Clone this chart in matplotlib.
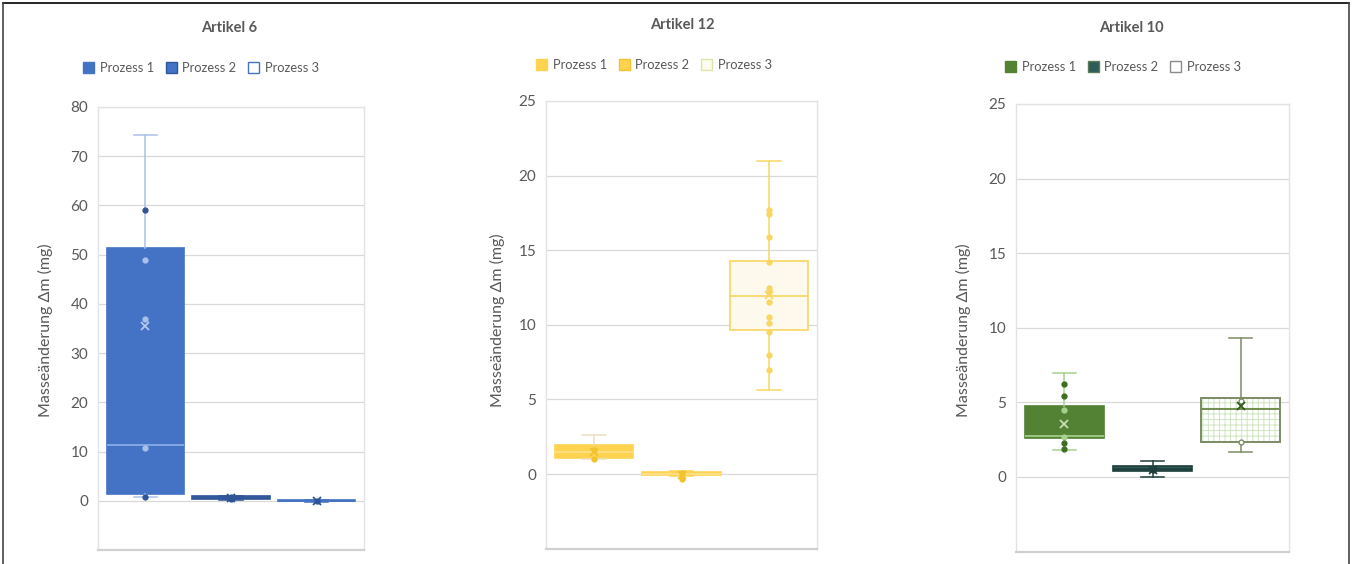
import numpy as np
import matplotlib.pyplot as plt
from matplotlib.patches import Patch, PathPatch
from matplotlib.lines import Line2D

plt.rcParams['font.family'] = ['Lato', 'DejaVu Sans']
plt.rcParams['hatch.linewidth'] = 0.7

prozesse = ["Prozess 1", "Prozess 2", "Prozess 3"]
ylabel = "Masseänderung Δm (mg)"

# Artikel 6
a6_q1 = [1.4, 0.3, -0.1]
a6_med = [11.4, 0.6, 0.0]
a6_q3 = [51.3, 0.9, 0.1]
a6_lo = [0.8, 0.2, -0.15]
a6_hi = [74.4, 1.0, 0.15]
a6_mean = [35.6, 0.5, 0.0]
a6_pts = [[59.0, 49.0, 37.0, 10.7, 0.8], [0.4, 0.6, 0.8], [0.0]]

# Artikel 12
a12_q1 = [1.1, -0.1, 9.65]
a12_med = [1.5, 0.0, 11.9]
a12_q3 = [1.95, 0.15, 14.3]
a12_lo = [1.0, -0.15, 5.6]
a12_hi = [2.6, 0.2, 21.0]
a12_mean = [1.5, -0.05, 12.0]
a12_pts = [[1.0, 1.6], [-0.35, 0.1],
           [17.7, 17.4, 15.9, 14.2, 12.5, 12.2, 11.5, 10.5, 10.1, 9.5, 8.0, 7.0]]

# Artikel 10
a10_q1 = [2.6, 0.4, 2.35]
a10_med = [2.75, 0.55, 4.56]
a10_q3 = [4.76, 0.74, 5.3]
a10_lo = [1.8, 0.0, 1.68]
a10_hi = [7.0, 1.07, 9.3]
a10_mean = [3.55, 0.5, 4.75]
a10_pts = [[6.2, 5.4, 4.5, 2.7, 2.3, 1.9], [0.5], [5.1, 2.35]]


def stats(q1, med, q3, lo, hi, mean):
    out = []
    for i in range(len(q1)):
        out.append(dict(q1=q1[i], med=med[i], q3=q3[i], whislo=lo[i],
                        whishi=hi[i], mean=mean[i], fliers=[]))
    return out


panels = [
    dict(title="Artikel 6", rect=(98, 107, 364, 550), ylim=(-10, 80), step=10,
         st=stats(a6_q1, a6_med, a6_q3, a6_lo, a6_hi, a6_mean), pts=a6_pts,
         fill=["#4472c4", "#4472c4", "white"],
         edge=["#4472c4", "#2f5597", "#4472c4"],
         whisk=["#a9c0ea", "#2f5597", "#4472c4"],
         med=["#8fb0ea", "#2f5597", "#4472c4"],
         mean=["#b4c8ee", "#2f5597", "#2f5597"],
         p_in=["#a9c0ea", "#2f5597", "#2f5597"],
         p_out=["#2f5597", "#2f5597", "#2f5597"],
         leg=[("#4472c4", "#4472c4"), ("#4472c4", "#2f5597"), ("white", "#4472c4")],
         tpos=(229, 28), lpos=(201, 68), ypos=(45, 330)),
    dict(title="Artikel 12", rect=(546, 101, 817, 548.6), ylim=(-5, 25), step=5,
         st=stats(a12_q1, a12_med, a12_q3, a12_lo, a12_hi, a12_mean), pts=a12_pts,
         fill=["#ffd34f", "#ffd34f", "#fdf9ec"],
         edge=["#ffd34f", "#ffd34f", "#f8d660"],
         whisk=["#e9dfbf", "#ffd34f", "#f8d660"],
         med=["#ffe38a", "#ffe38a", "#f8d660"],
         mean=["#f2c230", "#f2c230", "#f8d660"],
         p_in=["#f2c230", "#f2c230", "#f8d660"],
         p_out=["#f2c230", "#f2c230", "#f8d660"],
         leg=[("#ffd34f", "#ffd34f"), ("#ffd34f", "#f2c230"), ("#fdfbee", "#d9e6a8")],
         tpos=(682, 25), lpos=(654, 65), ypos=(497, 320)),
    dict(title="Artikel 10", rect=(1016, 104, 1289, 551.6), ylim=(-5, 25), step=5,
         st=stats(a10_q1, a10_med, a10_q3, a10_lo, a10_hi, a10_mean), pts=a10_pts,
         fill=["#548235", "#2e5b57", "white"],
         edge=["#548235", "#1e3d3a", "#7c8c64"],
         whisk=["#a9d18e", "#1e3d3a", "#7c8c64"],
         med=["#a9d18e", "#1e3d3a", "#5f7d3a"],
         mean=["#c5e0b4", "#1e3d3a", "#2f5a1e"],
         p_in=["#a9d18e", "#1e3d3a", "#7c8c64"],
         p_out=["#3f6e22", "#1e3d3a", "#7c8c64"],
         leg=[("#548235", "#548235"), ("#2e5b57", "#5a7a5a"), ("white", "#8a8a8a")],
         tpos=(1131, 28), lpos=(1123, 67), ypos=(963, 330)),
]

W, H = 1352, 564
fig = plt.figure(figsize=(W / 100, H / 100), dpi=100)
grey = "#595959"

for p in panels:
    l, t, r, b = p["rect"]
    ax = fig.add_axes([l / W, 1 - b / H, (r - l) / W, (b - t) / H])
    pos = np.arange(1, 4)
    bp = ax.bxp(p["st"], positions=pos, widths=0.9, capwidths=0.27,
                patch_artist=True, showmeans=True, showfliers=False,
                manage_ticks=False)
    for i in range(3):
        box = bp["boxes"][i]
        box.set_facecolor(p["fill"][i])
        box.set_edgecolor(p["edge"][i])
        box.set_linewidth(1.2)
        for k in (2 * i, 2 * i + 1):
            bp["whiskers"][k].set(color=p["whisk"][i], linewidth=1.1)
            bp["caps"][k].set(color=p["whisk"][i], linewidth=1.1)
        bp["medians"][i].set(color=p["med"][i], linewidth=1.2)
        bp["means"][i].set(marker="x", markersize=6, markeredgewidth=1.3,
                           markeredgecolor=p["mean"][i], zorder=5)
        s = p["st"][i]
        hollow = p["title"] == "Artikel 10" and i == 2
        for v in p["pts"][i]:
            inside = s["q1"] < v < s["q3"]
            c = p["p_in"][i] if inside else p["p_out"][i]
            ax.plot(pos[i], v, marker="o", markersize=3.5, color=c,
                    markerfacecolor="white" if hollow else c,
                    markeredgewidth=1, zorder=4)
    if p["title"] == "Artikel 10":
        # grid pattern inside box 3, outline drawn on top
        box = bp["boxes"][2]
        box.set_edgecolor("#cfe5bf")
        box.set_hatch("+++")
        box.set_linewidth(0)
        ax.add_patch(PathPatch(box.get_path(), facecolor="none",
                               edgecolor=p["edge"][2], linewidth=1.4, zorder=box.get_zorder() + 0.1))

    ax.set_xlim(0.45, 3.55)
    ax.set_ylim(*p["ylim"])
    ax.set_yticks(np.arange(0, p["ylim"][1] + 1, p["step"]))
    ax.set_xticks([])
    ax.tick_params(axis="y", length=0, pad=7, labelsize=11, labelcolor=grey)
    ax.grid(axis="y", color="#d9d9d9", linewidth=0.9)
    ax.set_axisbelow(True)
    for sp in ax.spines.values():
        sp.set_color("#e3e3e3")
        sp.set_linewidth(1.0)
    ax.spines["bottom"].set_color("#d0d0d0")
    ax.spines["bottom"].set_linewidth(1.6)

    fig.text(p["tpos"][0] / W, 1 - p["tpos"][1] / H, p["title"], ha="center",
             va="center", fontsize=10.5, fontweight="bold", color=grey)
    fig.text(p["ypos"][0] / W, 1 - p["ypos"][1] / H, ylabel, rotation=90,
             ha="center", va="center", fontsize=11.5, color=grey)
    handles = [Patch(facecolor=f, edgecolor=e, linewidth=1) for f, e in p["leg"]]
    fig.legend(handles, prozesse, loc="center",
               bbox_to_anchor=(p["lpos"][0] / W, 1 - p["lpos"][1] / H),
               ncol=3, frameon=False, fontsize=9.3, labelcolor=grey,
               handlelength=0.85, handleheight=0.85, handletextpad=0.45,
               columnspacing=0.9)

# outer frame
fig.add_artist(Line2D([3 / W, 1349 / W], [1 - 3 / H, 1 - 3 / H], color="black", linewidth=1.2))
fig.add_artist(Line2D([3 / W, 3 / W], [0, 1 - 3 / H], color="#444444", linewidth=1.2))
fig.add_artist(Line2D([1349 / W, 1349 / W], [0, 1 - 3 / H], color="#444444", linewidth=1.2))

fig.savefig("out.png", dpi=100)
